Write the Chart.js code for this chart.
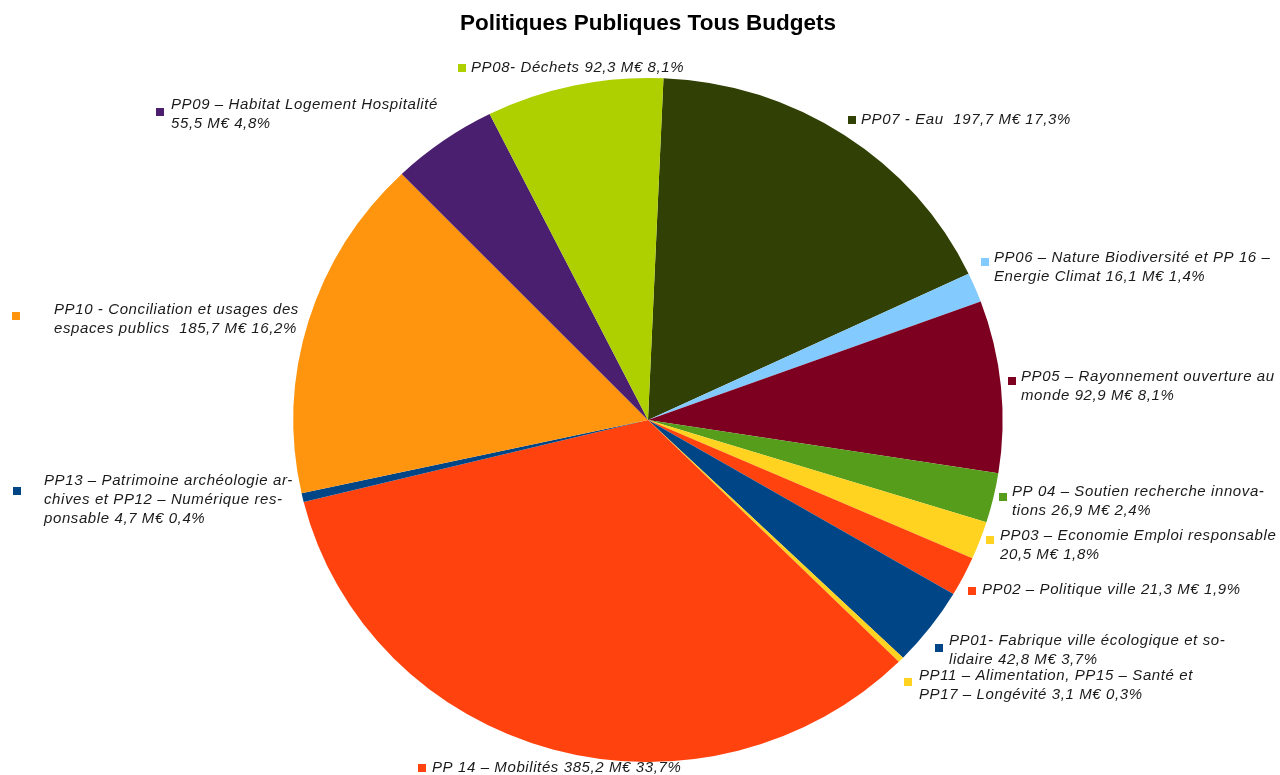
<!DOCTYPE html>
<html>
<head>
<meta charset="utf-8">
<title>Politiques Publiques Tous Budgets</title>
<script src="https://cdn.jsdelivr.net/npm/chart.js@4"></script>
<style>
  html, body { margin: 0; padding: 0; background: #ffffff; }
  #wrap { width: 1280px; height: 775px; position: relative; }
</style>
</head>
<body>
<div id="wrap"><canvas id="pieChart"></canvas></div>
<script>
// Données (ordre horaire depuis le haut)
const categories = ["PP07", "PP06", "PP05", "PP04", "PP03", "PP02", "PP01", "PP11", "PP14", "PP13", "PP10", "PP09", "PP08"];
const budgets = [197.7, 16.1, 92.9, 26.9, 20.5, 21.3, 42.8, 3.1, 385.2, 4.7, 185.7, 55.5, 92.3];
const sliceColors = ["#314004", "#83caff", "#7e0021", "#579d1c", "#ffd320", "#ff420e", "#004586", "#ffd320", "#ff420e", "#004586", "#ff950e", "#4b1f6f", "#aecf00"];

// Textes des étiquettes (une entrée par ligne)
const labelLines = [
    ["PP07 - Eau  197,7 M€ 17,3%"],
    ["PP06 – Nature Biodiversité et PP 16 –", "Energie Climat 16,1 M€ 1,4%"],
    ["PP05 – Rayonnement ouverture au", "monde 92,9 M€ 8,1%"],
    ["PP 04 – Soutien recherche innova-", "tions 26,9 M€ 2,4%"],
    ["PP03 – Economie Emploi responsable", "20,5 M€ 1,8%"],
    ["PP02 – Politique ville 21,3 M€ 1,9%"],
    ["PP01- Fabrique ville écologique et so-", "lidaire 42,8 M€ 3,7%"],
    ["PP11 – Alimentation, PP15 – Santé et", "PP17 – Longévité 3,1 M€ 0,3%"],
    ["PP 14 – Mobilités 385,2 M€ 33,7%"],
    ["PP13 – Patrimoine archéologie ar-", "chives et PP12 – Numérique res-", "ponsable 4,7 M€ 0,4%"],
    ["PP10 - Conciliation et usages des", "espaces publics  185,7 M€ 16,2%"],
    ["PP09 – Habitat Logement Hospitalité", "55,5 M€ 4,8%"],
    ["PP08- Déchets 92,3 M€ 8,1%"]
];

// Placement des étiquettes : [carré x, carré y, texte x, texte y (1re ligne)]
const labelPlace = [
    [852, 120, 861, 120],
    [985, 262, 994, 258],
    [1012, 381, 1021, 377],
    [1003, 497, 1012, 492],
    [990, 540, 1000, 536],
    [972, 591, 982, 590],
    [939, 648, 949, 641],
    [908, 682, 919, 676],
    [422, 768, 432, 768],
    [17, 491, 44, 481],
    [16, 316, 54, 310],
    [160, 112, 171, 105],
    [462, 68, 471, 68]
];

// Le camembert de l'original est un peu étiré en largeur
const stretchX = 1.037;
const stretchPie = {
    id: "stretchPie",
    beforeDatasetsDraw(chart) {
        const arc = chart.getDatasetMeta(0).data[0];
        chart.ctx.save();
        chart.ctx.translate(arc.x, arc.y);
        chart.ctx.scale(stretchX, 1);
        chart.ctx.translate(-arc.x, -arc.y);
    },
    afterDatasetsDraw(chart) {
        chart.ctx.restore();
    }
};

// Plugin pour dessiner les étiquettes avec leur carré de couleur
const pieLabels = {
    id: "pieLabels",
    afterDraw(chart) {
        const ctx = chart.ctx;
        ctx.save();
        ctx.font = "italic 15px 'Liberation Sans', Arial, sans-serif";
        ctx.letterSpacing = "0.6px";
        ctx.textBaseline = "middle";
        ctx.textAlign = "left";
        labelLines.forEach((lines, i) => {
            const [mx, my, tx, ty] = labelPlace[i];
            ctx.fillStyle = sliceColors[i];
            ctx.fillRect(mx - 4, my - 4, 8, 8);
            ctx.fillStyle = "#1a1a1a";
            lines.forEach((line, j) => {
                ctx.fillText(line, tx, ty + j * 19);
            });
        });
        ctx.restore();
    }
};

new Chart(document.getElementById("pieChart"), {
    type: "pie",
    data: {
        labels: categories,
        datasets: [{
            data: budgets,
            backgroundColor: sliceColors,
            borderWidth: 0
        }]
    },
    options: {
        responsive: true,
        maintainAspectRatio: false,
        animation: false,
        rotation: 2.5,
        layout: { padding: { top: 0, left: 16, right: 0, bottom: 13 } },
        plugins: {
            legend: { display: false },
            tooltip: { enabled: false },
            title: {
                display: true,
                text: "Politiques Publiques Tous Budgets",
                color: "#000000",
                font: { family: "'Liberation Sans', Arial, sans-serif", size: 22.5, weight: "bold", lineHeight: 1.2 },
                padding: { top: 10, bottom: 41 }
            }
        }
    },
    plugins: [stretchPie, pieLabels]
});
</script>
</body>
</html>
